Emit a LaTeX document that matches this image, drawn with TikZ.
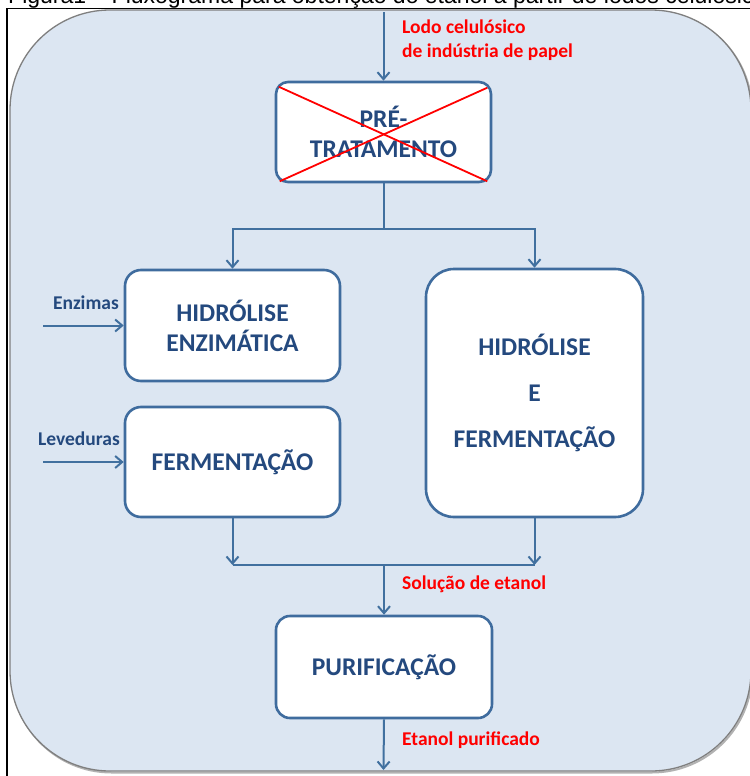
\documentclass[tikz,border=0pt]{standalone}
\usepackage{fontspec}
\setmainfont{Carlito}
\newfontfamily\capfont{Liberation Sans}
\usetikzlibrary{arrows.meta,calc}
\definecolor{bgfill}{HTML}{DCE6F2}
\definecolor{bgline}{HTML}{7F7F7F}
\definecolor{boxline}{HTML}{3F6C9E}
\definecolor{boxtext}{HTML}{24497E}
\definecolor{conn}{HTML}{41709F}
\definecolor{redtxt}{HTML}{FF0000}
\tikzset{
  box/.style={draw=boxline, line width=2.6bp, fill=white, rounded corners=#1,
    align=center, text=boxtext, inner sep=0pt,
    font=\bfseries\fontsize{25.5bp}{30bp}\selectfont},
  box/.default=15bp,
  arr/.style={draw=conn, line width=2bp, -{Straight Barb[length=7bp,width=12bp]}},
  ln/.style={draw=conn, line width=2bp},
  lbl/.style={font=\bfseries\fontsize{19.5bp}{24bp}\selectfont, text=boxtext, inner sep=0pt},
  redlbl/.style={font=\bfseries\fontsize{19.5bp}{24bp}\selectfont, text=redtxt, inner sep=0pt},
  cross/.style={draw=redtxt, line width=1.8bp}
}
\begin{document}
\begin{tikzpicture}[x=1bp,y=-1bp]
\clip (0,0) rectangle (750,776);
% background panel
\draw[draw=gray!60, line width=2bp, rounded corners=100bp] (11.5,11.5) rectangle (752,772.5);
\draw[draw=bgline, line width=1.3bp, fill=bgfill, rounded corners=100bp] (10,10) rectangle (751,771);
% frame and caption
\draw[black, line width=1.2bp] (7,776) -- (7,8.5) -- (750,8.5);
\node[anchor=base west, inner sep=0pt, font=\capfont\fontsize{23bp}{24bp}\selectfont] (cap) at (8,3.2)
  {Figura1 – Fluxograma para obtenção do etanol a partir de lodos celulósicos};
% boxes
\node[box=12bp, minimum width=215bp, minimum height=100bp] (pre) at (383.5,132) {PRÉ-\\TRATAMENTO};
\draw[cross] ($(pre.north west)+(4,6)$) -- ($(pre.south east)+(-5,-2)$);
\draw[cross] ($(pre.north east)+(-5,7)$) -- ($(pre.south west)+(5,-2)$);
\node[box=16bp, minimum width=215bp, minimum height=111bp] (hidenz) at (232.5,325.5) {HIDRÓLISE\\ENZIMÁTICA};
\node[box=16bp, minimum width=215bp, minimum height=110bp] (ferm) at (232.5,462) {FERMENTAÇÃO};
\node[box=28bp, minimum width=217bp, minimum height=248bp] (hidferm) at (534.5,393)
  {HIDRÓLISE\\[16bp]E\\[16bp]FERMENTAÇÃO};
\node[box=14bp, minimum width=216bp, minimum height=102bp] (pur) at (384,667) {PURIFICAÇÃO};
% labels
\node[redlbl, anchor=west, align=left] (lodo) at (402,40) {Lodo celulósico\\de indústria de papel};
\node[lbl, anchor=east] (enz) at (119,303) {Enzimas};
\node[lbl, anchor=east] (lev) at (120,439) {Leveduras};
\node[redlbl, anchor=west] (sol) at (402,584) {Solução de etanol};
\node[redlbl, anchor=west] (etp) at (402,740) {Etanol purificado};
% connectors
\coordinate (topin) at (383.5,12);
\draw[arr] (topin) -- (pre.north);
\coordinate (split) at (383.5,229);
\draw[ln] (pre.south) -- (split);
\draw[arr] (split) -| (hidenz.north);
\draw[arr] (split) -| (hidferm.north);
\coordinate (enzin) at (43,325.5);
\draw[arr] (enzin) -- (hidenz.west);
\coordinate (levin) at (43,462);
\draw[arr] (levin) -- (ferm.west);
\coordinate (join) at (383.5,565);
\draw[arr] (ferm.south) -- (ferm.south |- join);
\draw[arr] (hidferm.south) -- (hidferm.south |- join);
\draw[ln] (ferm.south |- join) -- (hidferm.south |- join);
\draw[arr] (pur.north |- join) -- (pur.north);
\coordinate (out) at (383.5,770);
\draw[arr] (pur.south) -- (out);
\end{tikzpicture}
\end{document}
